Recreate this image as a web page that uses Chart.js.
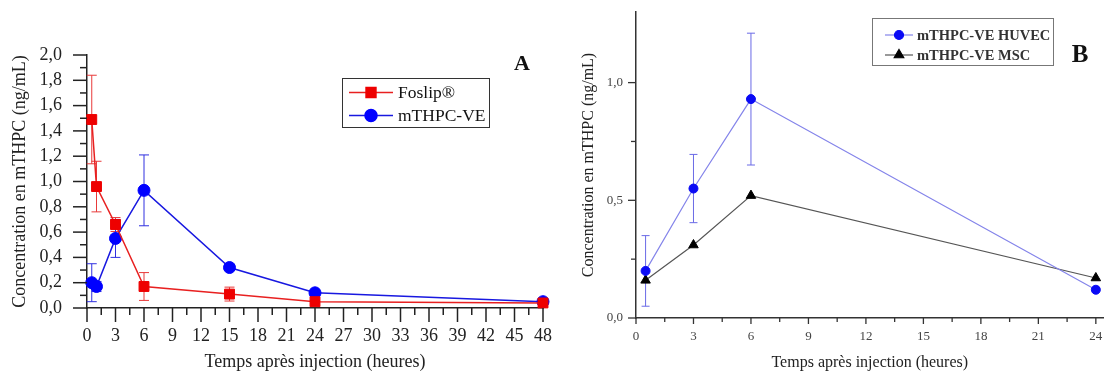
<!DOCTYPE html>
<html>
<head>
<meta charset="utf-8">
<script src="https://cdn.jsdelivr.net/npm/chart.js@4/dist/chart.umd.min.js"></script>
<style>
    html, body { margin: 0; padding: 0; background: #fff; }
    #wrap { position: relative; width: 1110px; height: 374px; }
    canvas { position: absolute; top: 0; }
    #chartA { left: 0; }
    #chartB { left: 560px; }
</style>
</head>
<body>
<div id="wrap">
    <canvas id="chartA" width="560" height="374"></canvas>
    <canvas id="chartB" width="550" height="374"></canvas>
</div>
<script>
// panel A data
var timesA = [0.5, 1, 3, 6, 15, 24, 48];
var foslip = [1.49, 0.96, 0.66, 0.17, 0.11, 0.05, 0.04];
var foslipErr = [0.35, 0.2, 0.055, 0.11, 0.055, 0.01, 0.01];
var mthpcVE = [0.20, 0.17, 0.55, 0.93, 0.32, 0.12, 0.05];
var mthpcVEErr = [0.15, 0.04, 0.15, 0.28, 0.02, 0.02, 0.01];
var ticksAX = [0, 3, 6, 9, 12, 15, 18, 21, 24, 27, 30, 33, 36, 39, 42, 45, 48];
var ticksAY = [0, 0.2, 0.4, 0.6, 0.8, 1.0, 1.2, 1.4, 1.6, 1.8, 2.0];

// panel B data
var timesB = [0.5, 3, 6, 24];
var huvec = [0.20, 0.55, 0.93, 0.12];
var huvecErr = [0.15, 0.145, 0.28, 0.01];
var msc = [0.16, 0.31, 0.52, 0.17];
var ticksBX = [0, 3, 6, 9, 12, 15, 18, 21, 24];
var ticksBY = [0, 0.5, 1.0];

var serif = "'Liberation Serif', 'DejaVu Serif', serif";

function points(xs, ys) {
    var ret = [];
    for (var i = 0; i < xs.length; i++) {
        ret.push({ x: xs[i], y: ys[i] });
    }
    return ret;
}

function comma(v) {
    return Number(v).toFixed(1).replace('.', ',');
}

function setTicks(list) {
    return function (scale) {
        scale.ticks = list.map(function (v) { return { value: v }; });
    };
}

// fixed axis box, and no extra room asked for the end labels
function fitX(h) {
    return function (s) {
        s.height = h;
        s.paddingLeft = 0; s.paddingRight = 0;
    };
}

function fitY(w) {
    return function (s) {
        s.width = w;
        s.paddingTop = 0; s.paddingBottom = 0;
    };
}

// axis tick marks, major and minor, drawn on the library's scales
var tickMarks = {
    id: 'tickMarks',
    afterDraw: function (chart, args, opts) {
        var ctx = chart.ctx;
        ['x', 'y'].forEach(function (id) {
            var s = chart.scales[id];
            var o = opts[id];
            var first = o.major[0];
            var last = o.major[o.major.length - 1];
            var n = Math.round((last - first) / o.minor);
            ctx.save();
            ctx.strokeStyle = o.color;
            ctx.lineWidth = o.width;
            for (var i = 0; i <= n; i++) {
                var v = first + i * o.minor;
                var isMajor = o.major.some(function (m) { return Math.abs(m - v) < 1e-6; });
                var len = isMajor ? o.majorLen : o.minorLen;
                var p = s.getPixelForValue(v);
                ctx.beginPath();
                if (id === 'x') {
                    ctx.moveTo(p, s.top);
                    ctx.lineTo(p, s.top + len);
                } else {
                    ctx.moveTo(s.right, p);
                    ctx.lineTo(s.right - len, p);
                }
                ctx.stroke();
            }
            ctx.restore();
        });
    }
};

var errorBars = {
    id: 'errorBars',
    beforeDatasetsDraw: function (chart, args, opts) {
        var ctx = chart.ctx;
        var xs = chart.scales.x, ys = chart.scales.y;
        chart.data.datasets.forEach(function (ds) {
            if (!ds.errors) return;
            ctx.save();
            ctx.strokeStyle = ds.errorColor;
            ctx.lineWidth = opts.width;
            ds.data.forEach(function (pt, i) {
                var e = ds.errors[i];
                if (!e) return;
                var px = xs.getPixelForValue(pt.x);
                var top = ys.getPixelForValue(pt.y + e);
                var bot = ys.getPixelForValue(Math.max(pt.y - e, 0));
                ctx.beginPath();
                ctx.moveTo(px, top); ctx.lineTo(px, bot);
                ctx.moveTo(px - opts.cap, top); ctx.lineTo(px + opts.cap, top);
                ctx.moveTo(px - opts.cap, bot); ctx.lineTo(px + opts.cap, bot);
                ctx.stroke();
            });
            ctx.restore();
        });
    }
};

var boxLegend = {
    id: 'boxLegend',
    afterDraw: function (chart, args, o) {
        var ctx = chart.ctx;
        ctx.save();
        ctx.fillStyle = '#fff';
        ctx.fillRect(o.x, o.y, o.w, o.h);
        ctx.strokeStyle = o.boxColor;
        ctx.lineWidth = 1;
        ctx.strokeRect(o.x + 0.5, o.y + 0.5, o.w, o.h);
        ctx.textBaseline = 'middle';
        chart.data.datasets.forEach(function (ds, i) {
            var cy = o.y + o.rowTop + i * o.rowGap;
            var lx = o.x + o.lineStart;
            ctx.strokeStyle = ds.borderColor;
            ctx.lineWidth = ds.borderWidth;
            ctx.beginPath();
            ctx.moveTo(lx, cy); ctx.lineTo(lx + o.lineLen, cy);
            ctx.stroke();
            ctx.fillStyle = ds.pointBackgroundColor;
            ctx.strokeStyle = ds.pointBorderColor;
            Chart.helpers.drawPoint(ctx, {
                pointStyle: ds.pointStyle, radius: ds.pointRadius, rotation: 0, borderWidth: 1
            }, lx + o.lineLen / 2, cy);
            ctx.font = o.font;
            ctx.fillStyle = o.textColor;
            ctx.fillText(ds.label, o.x + o.textX, cy + 1);
        });
        ctx.font = o.letterFont;
        ctx.fillStyle = '#111';
        ctx.textAlign = 'center';
        ctx.fillText(o.letter, o.letterX, o.letterY);
        ctx.restore();
    }
};

var chartA = new Chart(document.getElementById('chartA').getContext('2d'), {
    type: 'line',
    data: {
        datasets: [{
            label: 'Foslip®',
            data: points(timesA, foslip),
            errors: foslipErr,
            errorColor: '#e83a3a',
            borderColor: '#e82020',
            borderWidth: 1.5,
            pointStyle: 'rect',
            pointRadius: 7,
            pointBackgroundColor: '#ee0000',
            pointBorderColor: '#ee0000',
            pointBorderWidth: 1,
            clip: false
        }, {
            label: 'mTHPC-VE',
            data: points(timesA, mthpcVE),
            errors: mthpcVEErr,
            errorColor: '#3030e0',
            borderColor: '#1818e0',
            borderWidth: 1.5,
            pointStyle: 'circle',
            pointRadius: 6,
            pointBackgroundColor: '#0000ff',
            pointBorderColor: '#0000ff',
            pointBorderWidth: 1,
            clip: false
        }]
    },
    options: {
        responsive: false,
        animation: false,
        devicePixelRatio: 1,
        layout: { padding: { left: 0, right: 17, top: 55, bottom: 0 } },
        scales: {
            x: {
                type: 'linear',
                min: 0, max: 48,
                afterBuildTicks: setTicks(ticksAX),
                afterFit: fitX(66),
                grid: { display: false, drawTicks: false, tickLength: 0 },
                border: { display: true, color: '#222', width: 1.5 },
                ticks: { padding: 17, color: '#222', font: { family: serif, size: 18 } },
                title: {
                    display: true, text: 'Temps après injection (heures)', color: '#222',
                    font: { family: serif, size: 18, lineHeight: 1.2 }, padding: { top: 0, bottom: 1 }
                }
            },
            y: {
                min: 0, max: 2,
                afterBuildTicks: setTicks(ticksAY),
                afterFit: fitY(87),
                grid: { display: false, drawTicks: false, tickLength: 0 },
                border: { display: true, color: '#222', width: 1.5 },
                ticks: { padding: 25, color: '#222', font: { family: serif, size: 18 }, callback: comma },
                title: {
                    display: true, text: 'Concentration en mTHPC (ng/mL)', color: '#222',
                    font: { family: serif, size: 18, lineHeight: 1.2 }, padding: { top: 9, bottom: 0 }
                }
            }
        },
        plugins: {
            legend: { display: false },
            tooltip: { enabled: false },
            tickMarks: {
                x: { major: ticksAX, minor: 1.5, majorLen: 14, minorLen: 7, color: '#222', width: 1.5 },
                y: { major: ticksAY, minor: 0.1, majorLen: 14, minorLen: 7, color: '#222', width: 1.5 }
            },
            errorBars: { width: 1, cap: 5 },
            boxLegend: {
                x: 342, y: 78, w: 147, h: 49, boxColor: '#333',
                rowTop: 14.5, rowGap: 23, lineStart: 7, lineLen: 44, textX: 56,
                font: '17.5px ' + serif, textColor: '#111',
                letter: 'A', letterX: 522, letterY: 64, letterFont: 'bold 22px ' + serif
            }
        }
    },
    plugins: [tickMarks, errorBars, boxLegend]
});

var chartB = new Chart(document.getElementById('chartB').getContext('2d'), {
    type: 'line',
    data: {
        datasets: [{
            label: 'mTHPC-VE HUVEC',
            data: points(timesB, huvec),
            errors: huvecErr,
            errorColor: '#6a6ae6',
            borderColor: '#8484ea',
            borderWidth: 1.2,
            pointStyle: 'circle',
            pointRadius: 4.5,
            pointBackgroundColor: '#0a0af5',
            pointBorderColor: '#0a0af5',
            pointBorderWidth: 1,
            clip: false
        }, {
            label: 'mTHPC-VE MSC',
            data: points(timesB, msc),
            borderColor: '#555',
            borderWidth: 1.2,
            pointStyle: 'triangle',
            pointRadius: 5.5,
            pointBackgroundColor: '#000',
            pointBorderColor: '#000',
            pointBorderWidth: 1,
            clip: false
        }]
    },
    options: {
        responsive: false,
        animation: false,
        devicePixelRatio: 1,
        layout: { padding: { left: 0, right: 5.5, top: 12, bottom: 0 } },
        scales: {
            x: {
                type: 'linear',
                min: 0, max: 24.4,
                afterBuildTicks: setTicks(ticksBX),
                afterFit: fitX(56),
                grid: { display: false, drawTicks: false, tickLength: 0 },
                border: { display: true, color: '#333', width: 1.5 },
                ticks: { padding: 11, color: '#444', font: { family: serif, size: 13 } },
                title: {
                    display: true, text: 'Temps après injection (heures)', color: '#222',
                    font: { family: serif, size: 16, lineHeight: 1.2 }, padding: { top: 0, bottom: 2 }
                }
            },
            y: {
                min: 0, max: 1.3,
                afterBuildTicks: setTicks(ticksBY),
                afterFit: fitY(76),
                grid: { display: false, drawTicks: false, tickLength: 0 },
                border: { display: true, color: '#333', width: 1.5 },
                ticks: { padding: 13, color: '#444', font: { family: serif, size: 13 }, callback: comma },
                title: {
                    display: true, text: 'Concentration en mTHPC (ng/mL)', color: '#222',
                    font: { family: serif, size: 16, lineHeight: 1.2 }, padding: { top: 19, bottom: 0 }
                }
            }
        },
        plugins: {
            legend: { display: false },
            tooltip: { enabled: false },
            tickMarks: {
                x: { major: ticksBX, minor: 1.5, majorLen: 6, minorLen: 4, color: '#333', width: 1.3 },
                y: { major: ticksBY, minor: 0.25, majorLen: 8, minorLen: 5, color: '#333', width: 1.3 }
            },
            errorBars: { width: 1, cap: 4 },
            boxLegend: {
                x: 312, y: 18, w: 181, h: 47, boxColor: '#777',
                rowTop: 17, rowGap: 20, lineStart: 13, lineLen: 28, textX: 45,
                font: 'bold 14.5px ' + serif, textColor: '#333',
                letter: 'B', letterX: 520, letterY: 56, letterFont: 'bold 25px ' + serif
            }
        }
    },
    plugins: [tickMarks, errorBars, boxLegend]
});
</script>
</body>
</html>
